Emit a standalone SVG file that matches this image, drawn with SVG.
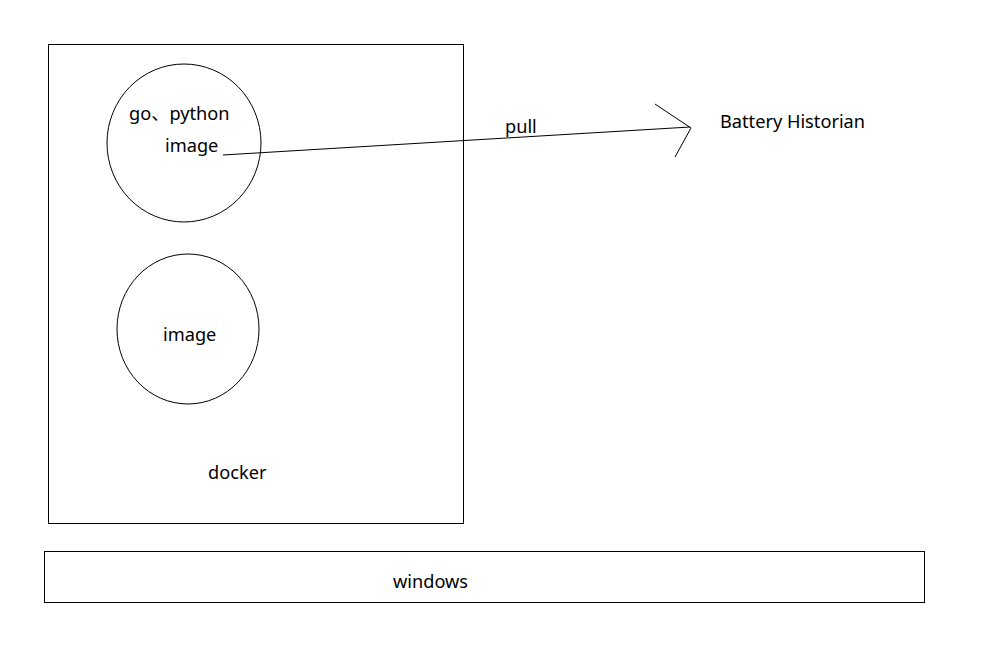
<svg xmlns="http://www.w3.org/2000/svg" width="987" height="666" viewBox="0 0 987 666">
<style>
.s{fill:none;stroke:#000;stroke-width:1}
.t{font-family:"Noto Sans","Noto Sans CJK SC",sans-serif;font-size:18.2px;fill:#000}
</style>
<rect width="987" height="666" fill="#fff"/>
<g id="docker"><rect class="s" x="48.5" y="44.5" width="415" height="479"/><text class="t" x="208" y="479">docker</text></g>
<g id="windows"><rect class="s" x="44.5" y="551.5" width="880" height="51"/><text class="t" x="393" y="588">windows</text></g>
<g id="image1"><ellipse class="s" cx="184" cy="143" rx="77" ry="79"/><text class="t" x="129" y="120">go、python</text><text class="t" x="165" y="152">image</text></g>
<g id="image2"><ellipse class="s" cx="188" cy="329" rx="71" ry="75"/><text class="t" x="163" y="341">image</text></g>
<g id="battery"><text class="t" x="720" y="128">Battery Historian</text></g>
<g id="connectors"><line class="s" x1="223" y1="155" x2="690" y2="127"/><polyline class="s" points="655,104 691,128 675,157"/><text class="t" x="505" y="133">pull</text></g>
</svg>
